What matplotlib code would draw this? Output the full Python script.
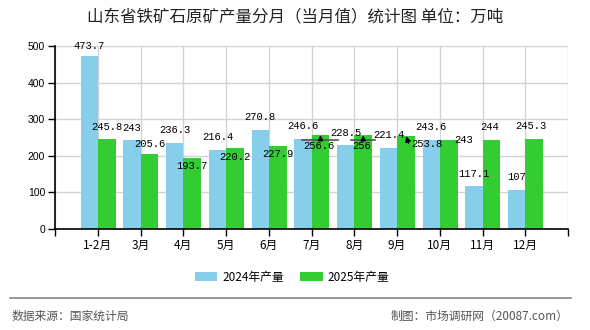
import numpy as np
import matplotlib
matplotlib.use("Agg")
import matplotlib.pyplot as plt
from matplotlib.transforms import offset_copy

plt.rcParams['font.family'] = ['Noto Sans CJK SC', 'DejaVu Sans']

# datos
meses = ['1-2月', '3月', '4月', '5月', '6月', '7月', '8月', '9月', '10月', '11月', '12月']
prod_2024 = [473.7, 243, 236.3, 216.4, 270.8, 246.6, 228.5, 221.4, 243.6, 117.1, 107]
prod_2025 = [245.8, 205.6, 193.7, 220.2, 227.9, 256.6, 256, 253.8, 243, 244, 245.3]
etiq_2024 = ['473.7', '243', '236.3', '216.4', '270.8', '246.6', '228.5', '221.4', '243.6', '117.1', '107']
etiq_2025 = ['245.8', '205.6', '193.7', '220.2', '227.9', '256.6', '256', '253.8', '243', '244', '245.3']

# desplazamiento de etiquetas (px) para imitar el acomodo del original
off_2024 = [(0, 10)] + [(0, 12.5)] * 10
off_2025 = [(0, 12), (0, 10), (0, -8), (0, -9), (0, -8), (-2, -11), (-2, -11),
            (21, -8), (15, 0), (-2, 13), (-3, 13)]
con_flecha = [5, 6]   # flecha vertical con linea encima

azul = '#87CEEB'
verde = '#33CC33'

fig = plt.figure(figsize=(5.9, 3.3), dpi=100)
ax = fig.add_axes([55 / 590, 1 - 229 / 330, 513 / 590, 183 / 330])

x = np.arange(len(meses))
ax.bar(x - 0.4, prod_2024, width=0.4, align='edge', color=azul, label='2024年产量', zorder=2)
ax.bar(x, prod_2025, width=0.42, align='edge', color=verde, label='2025年产量', zorder=2)

ax.set_xlim(-1, 11)
ax.set_ylim(0, 500)
ax.set_xticks(np.arange(-1, 12))
ax.set_xticklabels([''] + meses + [''], fontsize=8.5)
ax.set_yticks(np.arange(0, 501, 100))
ax.set_yticklabels([str(v) for v in range(0, 501, 100)], family='Liberation Sans', fontsize=7.5)
ax.grid(True, color='#d3d3d3', lw=1, zorder=0)
for s in ['top', 'right']:
    ax.spines[s].set_visible(False)
ax.spines['left'].set_linewidth(1.2)
ax.spines['bottom'].set_linewidth(1.2)
ax.tick_params(axis='both', length=5, width=1, colors='black', pad=2)

fmono = dict(family='Liberation Mono', fontsize=7.6, ha='center', va='center', zorder=5)

for i in range(len(meses)):
    ax.annotate(etiq_2024[i], xy=(x[i] - 0.2, prod_2024[i]), xytext=off_2024[i],
                textcoords='offset pixels', **fmono)

for i in range(len(meses)):
    xc = x[i] + 0.21
    if i == 7:
        ax.annotate(etiq_2025[i], xy=(xc, prod_2025[i]), xytext=off_2025[i],
                    textcoords='offset pixels',
                    arrowprops=dict(arrowstyle='-|>', color='black', lw=1,
                                    mutation_scale=8, shrinkA=0, shrinkB=0,
                                    relpos=(1, 0),
                                    connectionstyle='angle,angleA=0,angleB=-70,rad=0'),
                    **fmono)
        continue
    ax.annotate(etiq_2025[i], xy=(xc, prod_2025[i]), xytext=off_2025[i],
                textcoords='offset pixels', **fmono)
    if i in con_flecha:
        tr = offset_copy(ax.transData, fig, y=-4.5, units='dots')
        ancho = (len(etiq_2025[i]) * 3 + 3) / 42.75
        ax.plot([xc - ancho, xc + ancho], [prod_2025[i], prod_2025[i]],
                color='#555555', lw=1.2, transform=tr, zorder=6)
        ax.annotate('', xy=(xc, prod_2025[i]), xytext=(xc, prod_2025[i]),
                    textcoords=tr,
                    arrowprops=dict(arrowstyle='-|>', color='black', lw=0.8,
                                    mutation_scale=8, shrinkA=0, shrinkB=0),
                    zorder=6)

fig.text(0.5, 1 - 17 / 330, '山东省铁矿石原矿产量分月（当月值）统计图 单位：万吨',
         ha='center', va='center', fontsize=11.9, color='#222222')

fig.legend(loc='center', bbox_to_anchor=(292 / 590, 1 - 277 / 330), ncol=2,
           frameon=False, fontsize=8.5, handlelength=1.9, handleheight=0.85,
           handletextpad=0.4, columnspacing=1.4)

fig.add_artist(plt.Line2D([10 / 590, 571 / 590], [1 - 298 / 330] * 2,
                          color='#888888', lw=1.2, transform=fig.transFigure))
fig.text(12 / 590, 1 - 316 / 330, '数据来源：国家统计局', ha='left', va='center',
         fontsize=8.5, color='#555555')
fig.text(568 / 590, 1 - 316 / 330, '制图：市场调研网（20087.com）', ha='right', va='center',
         fontsize=8.5, color='#555555')

fig.savefig('out.png', dpi=100)
